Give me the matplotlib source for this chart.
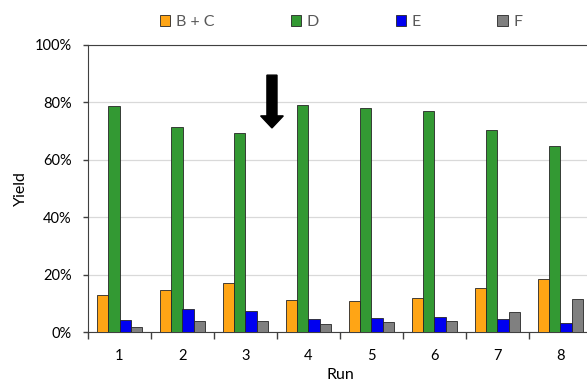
import matplotlib.pyplot as plt
import numpy as np

runs = ['1', '2', '3', '4', '5', '6', '7', '8']
bc = [13.0, 14.5, 17.0, 11.3, 10.9, 11.7, 15.5, 18.5]
d = [78.6, 71.5, 69.2, 79.0, 78.0, 76.9, 70.5, 64.9]
e = [4.2, 8.1, 7.2, 4.7, 5.0, 5.4, 4.7, 3.3]
f = [1.9, 4.0, 4.0, 2.8, 3.6, 4.0, 7.0, 11.5]

series = [('B + C', bc, '#FFA515'), ('D', d, '#339933'),
          ('E', e, '#0000F0'), ('F', f, '#808080')]

plt.rcParams['font.family'] = ['Lato', 'DejaVu Sans']

fig = plt.figure(figsize=(5.87, 3.85), dpi=100)
ax = fig.add_axes([88 / 587, 53 / 385, 504 / 587, 287 / 385])

x = np.arange(len(runs))
w = 0.175
for i, (name, vals, col) in enumerate(series):
    ax.bar(x + (i - 1.5) * w, vals, w, color=col, edgecolor='#262626',
           linewidth=0.6, label=name, zorder=3)

# arrow marking run 3/4
ax.arrow(2.42, 89.5, 0, -18.4, width=0.16, head_width=0.36, head_length=4.2,
         length_includes_head=True, color='black', zorder=4)

ax.set_xlim(-0.5, 7.5)
ax.set_ylim(0, 100)
ax.set_yticks(range(0, 101, 20))
ax.set_yticklabels([f'{v}%' for v in range(0, 101, 20)], fontsize=10.5)
ax.yaxis.grid(True, color='#d9d9d9', linewidth=0.9, zorder=0)

ax.set_xticks(x)
ax.set_xticklabels(runs, fontsize=10.5)
ax.set_xticks(np.arange(-0.5, 8, 1), minor=True)
ax.tick_params(axis='x', which='major', length=0, pad=12)
ax.tick_params(axis='x', which='minor', length=5, width=1, color='#404040')
ax.tick_params(axis='y', length=3.6, width=1, color='#404040', pad=8)

ax.spines['right'].set_visible(False)
for s in ['top', 'left', 'bottom']:
    ax.spines[s].set_color('#404040')

ax.set_xlabel('Run', fontsize=11.5, labelpad=4)
ax.set_ylabel('Yield', fontsize=11.5, labelpad=5)

leg = fig.legend(loc='center', bbox_to_anchor=(341 / 587, 1 - 22 / 385), ncol=4,
                 frameon=False, fontsize=11.5, handlelength=0.65, handleheight=0.65,
                 handletextpad=0.35, columnspacing=4.8)
for t in leg.get_texts():
    t.set_color('#595959')

fig.savefig('out.png', dpi=100)
